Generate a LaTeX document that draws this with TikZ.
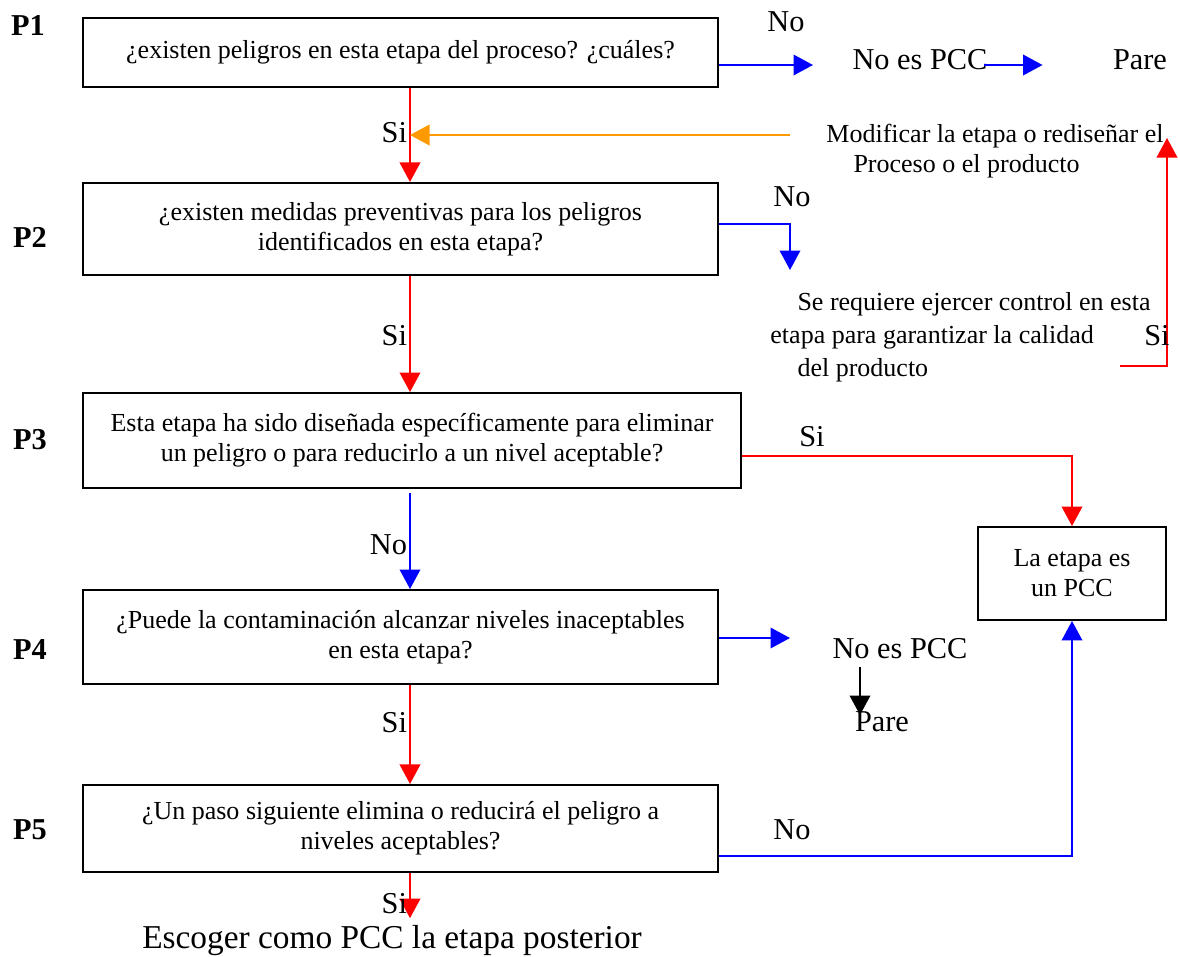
\documentclass[tikz,border=0pt]{standalone}
\usepackage{fontspec}
\setmainfont{Liberation Serif}
\usetikzlibrary{arrows.meta, positioning, calc}
\definecolor{sired}  {HTML}{FF0000}
\definecolor{noblue} {HTML}{0000FF}
\definecolor{backorg}{HTML}{FF9900}

\begin{document}
\begin{tikzpicture}[
  % one unit is one pixel of the sheet, y grows downwards
  x=0.4615pt, y=-0.4615pt,
  box/.style={draw, line width=0.9pt, align=center, inner sep=2pt,
              minimum width=293.1pt, font=\fontsize{12}{13.85}\selectfont},
  siarrow/.style={-{Triangle[length=9pt, width=9.5pt]}, line width=0.8pt, color=sired},
  noarrow/.style={-{Triangle[length=9pt, width=9.5pt]}, line width=0.8pt, color=noblue},
  backarrow/.style={-{Triangle[length=9pt, width=9.5pt]}, line width=0.8pt, color=backorg},
  parearrow/.style={-{Triangle[length=9pt, width=9.5pt]}, line width=0.8pt, color=black},
  plabel/.style={font=\fontsize{14}{16}\selectfont\bfseries},
  ans/.style={font=\fontsize{14}{16}\selectfont, inner sep=1pt},
  outcome/.style={font=\fontsize{14}{16}\selectfont},
  note/.style={font=\fontsize{12}{13.85}\selectfont, align=left, inner sep=0pt}
]
\useasboundingbox (0,0) rectangle (1178,956);

% --- Question boxes ---
\node[box, minimum height=31.8pt] (p1) at (400.5,52.5) {¿existen peligros en esta etapa del proceso? ¿cuáles?};
\node[box, minimum height=42.5pt] (p2) at (400.5,229) {¿existen medidas preventivas para los peligros\\identificados en esta etapa?};
\node[box, minimum height=43.8pt, minimum width=303.7pt] (p3) at (412,440.5) {Esta etapa ha sido diseñada específicamente para eliminar\\un peligro o para reducirlo a un nivel aceptable?};
\node[box, minimum height=43.4pt] (p4) at (400.5,637) {¿Puede la contaminación alcanzar niveles inaceptables\\en esta etapa?};
\node[box, minimum height=40.2pt] (p5) at (400.5,828.5) {¿Un paso siguiente elimina o reducirá el peligro a\\niveles aceptables?};
\node[box, minimum height=42.9pt, minimum width=86.8pt] (pcc) at (1072,573.5) {La etapa es\\un PCC};

% --- Step labels ---
\node[plabel] (l1) at (28,25)  {P1};
\node[plabel] (l2) at (30,237) {P2};
\node[plabel] (l3) at (30,440) {P3};
\node[plabel] (l4) at (30,650) {P4};
\node[plabel] (l5) at (30,830) {P5};

% --- Outcomes ---
\node[outcome] (nopcc1) at (920,60)  {No es PCC};
\node[outcome] (pare1)  at (1140,60) {Pare};
\node[outcome] (nopcc2) at (900,649) {No es PCC};
\node[outcome] (pare2)  at (882,722) {Pare};
\node[outcome, font=\fontsize{15.4}{17}\selectfont] (escoger) at (392,941) {Escoger como PCC la etapa posterior};
\node[note, anchor=north west] (modif) at (826,124)
  {Modificar la etapa o rediseñar el\\\hspace*{12.5pt}Proceso o el producto};
\node[note, anchor=north west, font=\fontsize{12}{15.2}\selectfont] (ctrl) at (770,292)
  {\hspace*{12.5pt}Se requiere ejercer control en esta\\etapa para garantizar la calidad\\\hspace*{12.5pt}del producto};

% --- Helper points ---
\coordinate (spine) at (410,0);
\coordinate (a1) at (813,65);
\coordinate (o1) at (790,135);
\coordinate (k2) at (790,224);
\coordinate (t2) at (790,270);
\coordinate (r1) at (1120,366);
\coordinate (r2) at (1167,138);
\coordinate (jp3) at (1073,456);
\coordinate (a4) at (790,638);
\coordinate (b4) at (860,715);
\coordinate (jp5) at (1073,856);

% --- Main column ---
\draw[siarrow] (p1.south -| spine) -- (p2.north -| spine) node[pos=0.48, left, ans, black] {Si};
\draw[siarrow] (p2.south -| spine) -- (p3.north -| spine) node[pos=0.51, left, ans, black] {Si};
\draw[noarrow, shorten <=2pt] (p3.south -| spine) -- (p4.north -| spine) node[pos=0.56, left, ans, black] {No};
\draw[siarrow] (p4.south -| spine) -- (p5.north -| spine) node[pos=0.38, left, ans, black] {Si};
\draw[siarrow] (p5.south -| spine) -- (escoger.north -| spine) node[pos=0.68, left, ans, black] {Si};

% --- P1 branch ---
\draw[noarrow] (p1.east |- a1) -- (a1);
\node[ans] (n1) at (786,22) {No};
\draw[noarrow, shorten <=-5pt, shorten >=29pt] (nopcc1.east |- a1) -- (pare1.west |- a1);
\draw[backarrow] (o1) -- (o1 -| spine);

% --- P2 branch ---
\draw[noarrow] (p2.east |- k2) -| (t2);
\node[ans] (n2) at (792,197) {No};
\draw[siarrow] (r1) -| (r2);
\node[ans] (s2) at (1157,336) {Si};

% --- P3 branch ---
\draw[siarrow] (p3.east |- jp3) -| (pcc.north);
\node[ans] (s3) at (812,437) {Si};

% --- P4 branch ---
\draw[noarrow] (p4.east |- a4) -- (a4);
\draw[parearrow] (nopcc2.south -| b4) -- (b4);

% --- P5 branch ---
\draw[noarrow] (p5.east |- jp5) -| (pcc.south);
\node[ans] (n5) at (792,830) {No};

\end{tikzpicture}
\end{document}
